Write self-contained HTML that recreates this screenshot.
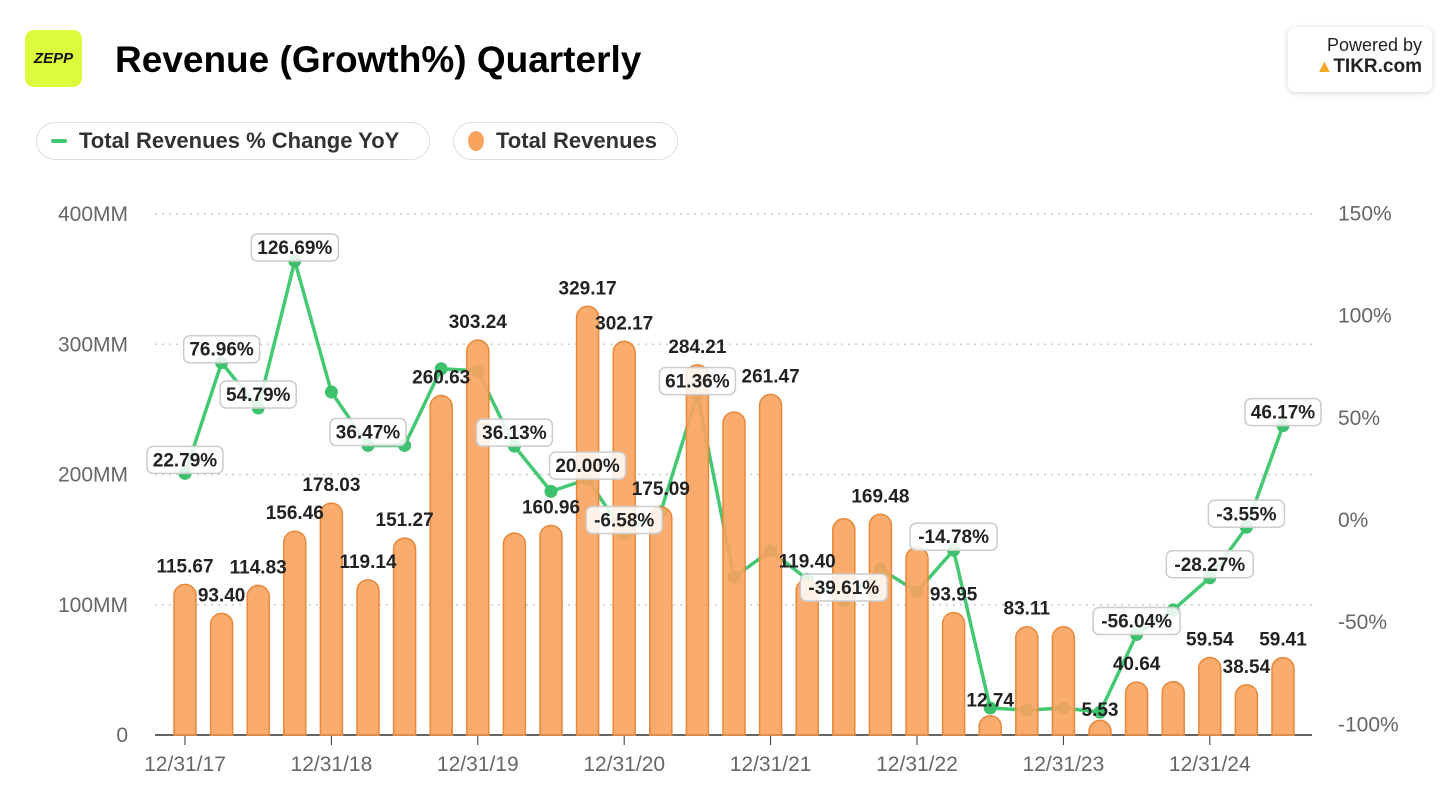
<!DOCTYPE html>
<html><head><meta charset="utf-8"><style>
body{margin:0;width:1456px;height:809px;background:#fff;font-family:"Liberation Sans",sans-serif;overflow:hidden;position:relative}
.logo{position:absolute;left:25px;top:30px;width:57px;height:57px;background:#dcfb3c;border-radius:9px;display:flex;align-items:center;justify-content:center;font-weight:bold;font-style:italic;font-size:15px;color:#111}
.title{position:absolute;left:115px;top:39px;font-size:37px;font-weight:bold;color:#000}
.tikr{position:absolute;left:1288px;top:27px;width:144px;height:65px;border-radius:8px;box-shadow:0 1px 6px rgba(0,0,0,.18);text-align:right;box-sizing:border-box;padding:8px 10px 0 0;font-size:18px;color:#222}
.tikr b{font-size:19px}
.pill{position:absolute;top:122px;height:38px;border:1.5px solid #ddd;border-radius:20px;box-sizing:border-box;display:flex;align-items:center;font-size:22px;font-weight:bold;color:#333;padding-left:14px}
</style></head><body>
<div class="logo">ZEPP</div>
<div class="title">Revenue (Growth%) Quarterly</div>
<div class="tikr">Powered by<br><span style="color:#f5a623">▲</span><b>TIKR.com</b></div>
<div class="pill" style="left:36px;width:394px"><span style="display:inline-block;width:16px;height:4px;background:#3ec86f;margin-right:12px;border-radius:2px"></span>Total Revenues % Change YoY</div>
<div class="pill" style="left:453px;width:225px"><span style="display:inline-block;width:16px;height:20px;background:#f9a35e;border-radius:50%;margin-right:12px"></span>Total Revenues</div>
<svg id="chart" width="1456" height="809" style="position:absolute;left:0;top:0"></svg>
<script>
const revenue=[115.67,93.40,114.83,156.46,178.03,119.14,151.27,260.63,303.24,155,160.96,329.17,302.17,175.09,284.21,248,261.47,119.40,166,169.48,144,93.95,12.74,83.11,83.11,5.53,40.64,41,59.54,38.54,59.41];
const revLabeled=[1,1,1,1,1,1,1,1,1,0,1,1,1,1,1,0,1,1,0,1,0,1,1,1,0,1,1,0,1,1,1];
const growth=[22.79,76.96,54.79,126.69,62.6,36.47,36.47,74,73,36.13,14,20.00,-6.58,4,61.36,-28,-15,-29,-39.61,-24,-35,-14.78,-92,-93,-92,-94,-56.04,-44,-28.27,-3.55,46.17];
const growthLabeled=[1,1,1,1,0,1,0,0,0,1,0,1,1,0,1,0,0,0,1,0,0,1,0,0,0,0,1,0,1,1,1];
const leftTicks=[0,100,200,300,400];
const leftTickLabels=["0","100MM","200MM","300MM","400MM"];
const rightTicks=[-100,-50,0,50,100,150];
const xTickIdx=[0,4,8,12,16,20,24,28];
const xTickLabels=["12/31/17","12/31/18","12/31/19","12/31/20","12/31/21","12/31/22","12/31/23","12/31/24"];
const NS="http://www.w3.org/2000/svg";
const svg=document.getElementById('chart');
const X=i=>185+i*36.6;
const YL=v=>735-v*1.3025;
const YR=p=>520-p*2.044;
function mk(t,a,p){const e=document.createElementNS(NS,t);for(const k in a)e.setAttribute(k,a[k]);(p||svg).appendChild(e);return e;}
leftTicks.forEach((v,i)=>{
  if(v>0){const g=mk('line',{x1:155,x2:1312,y1:YL(v),y2:YL(v),stroke:'#ccc','stroke-dasharray':'2 5','stroke-width':1.5});
  
  }
  const t=mk('text',{x:128,y:YL(v)+7,'text-anchor':'end','font-size':21,fill:'#666'});t.textContent=leftTickLabels[i];
  
  
});
rightTicks.forEach(p=>{const t=mk('text',{x:1338,y:YR(p)+7,'font-size':21,fill:'#666'});t.textContent=p+'%';
  
  });
const ax=mk('line',{x1:155,x2:1312,y1:735,y2:735,stroke:'#333','stroke-width':1.5});


xTickIdx.forEach((ix,k)=>{mk('line',{x1:X(ix),x2:X(ix),y1:735,y2:745,stroke:'#333'});
  const t=mk('text',{x:X(ix),y:771,'text-anchor':'middle','font-size':21,fill:'#666'});t.textContent=xTickLabels[k];
  
  });
const pl=mk('polyline',{points:growth.map((p,i)=>X(i)+','+YR(p)).join(' '),fill:'none',stroke:'#45c874','stroke-width':3.5,'stroke-linejoin':'round'});


growth.forEach((p,i)=>{const c=mk('circle',{cx:X(i),cy:YR(p),r:6.5,fill:'#3ec16d'});
  
  });
revenue.forEach((v,i)=>{const w=22,x=X(i)-w/2,y=YL(v),h=735-y,r=Math.min(11,h/2);
  const d=`M${x},735 L${x},${y+r} A${r},${r} 0 0 1 ${x+w},${y+r} L${x+w},735 Z`;
  const b=mk('path',{d:d,fill:'#f9a35e','fill-opacity':0.9,stroke:'#e8883a','stroke-width':1.5});
  
  });
revenue.forEach((v,i)=>{if(!revLabeled[i])return;
  const t=mk('text',{x:X(i),y:YL(v)-12,'text-anchor':'middle','font-size':19,'font-weight':'bold',fill:'#222'});t.textContent=v.toFixed(2);
  
  });
growth.forEach((p,i)=>{if(!growthLabeled[i])return;
  const s=p.toFixed(2)+'%';const w=s.length*11+10,cy=YR(p)-14;
  const r=mk('rect',{x:X(i)-w/2,y:cy-13,width:w,height:27,rx:6,fill:'#fff','fill-opacity':0.85,stroke:'#ccc','stroke-width':1.5});
  
  
  const t=mk('text',{x:X(i),y:cy+7,'text-anchor':'middle','font-size':19,'font-weight':'bold',fill:'#222'});t.textContent=s;
  
  });
</script>
</body></html>
